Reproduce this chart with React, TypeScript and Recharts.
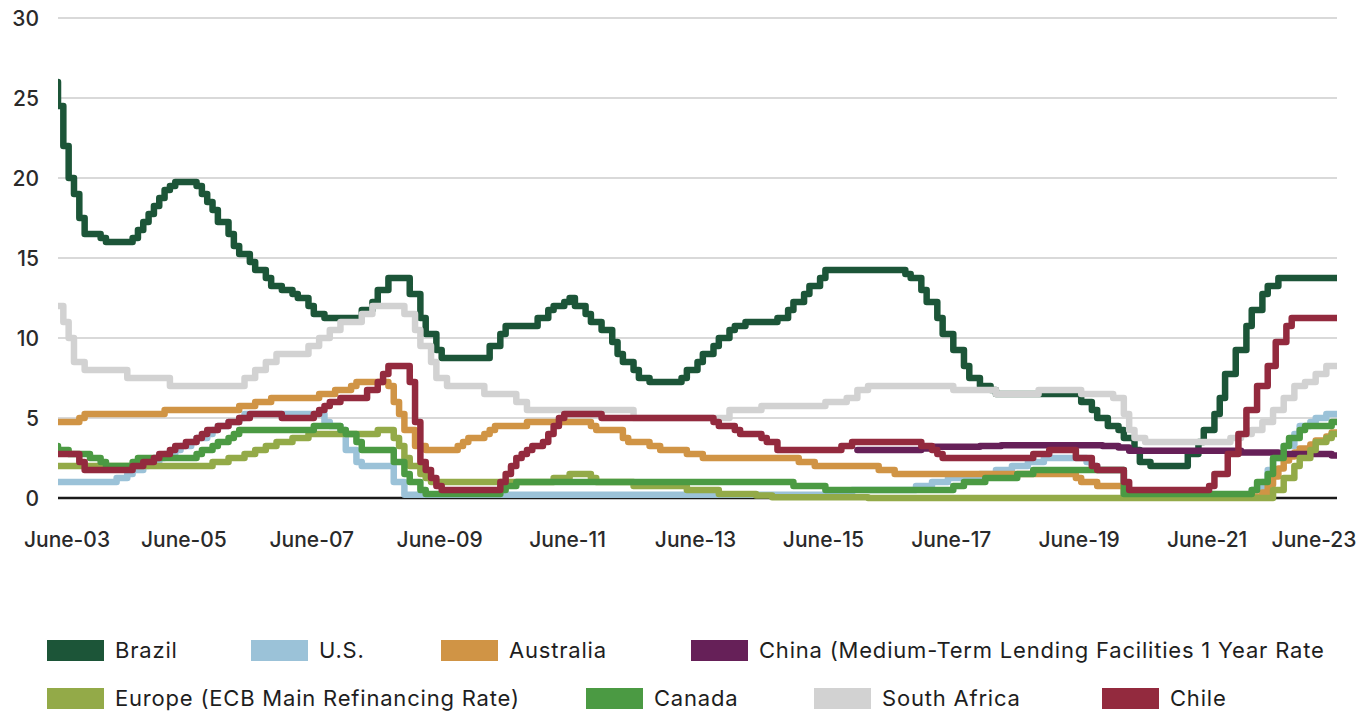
import React from 'react';
import { LineChart, Line, XAxis, YAxis, CartesianGrid } from 'recharts';

// x = months since June 2003 (position where each rate level begins), y = policy rate (%)
const X_TICKS = [0, 24, 48, 72, 96, 120, 144, 168, 192, 216, 240];
const X_TICK_LABELS = ['June-03', 'June-05', 'June-07', 'June-09', 'June-11', 'June-13', 'June-15', 'June-17', 'June-19', 'June-21', 'June-23'];
const Y_TICKS = [0, 5, 10, 15, 20, 25, 30];

const brazil: [number, number][] = [
  [0, 26], [0, 24.5], [1, 22], [2, 20], [3, 19], [4, 17.5], [5, 16.5], [8, 16.25], [9, 16], [14, 16.25], [15, 16.75],
  [16, 17.25], [17, 17.75], [18, 18.25], [19, 18.75], [20, 19.25], [21, 19.5], [22, 19.75], [26, 19.5], [27, 19],
  [28, 18.5], [29, 18], [30, 17.25], [32, 16.5], [33, 15.75], [34, 15.25], [36, 14.75], [37, 14.25], [39, 13.75],
  [40, 13.25], [42, 13], [44, 12.75], [45, 12.5], [47, 12], [48, 11.5], [50, 11.25], [57, 11.75], [59, 12.25], [60, 13],
  [62, 13.75], [66, 12.75], [68, 11.25], [69, 10.25], [71, 9.25], [72, 8.75], [81, 9.5], [83, 10.25], [84, 10.75],
  [90, 11.25], [92, 11.75], [93, 12], [95, 12.25], [96, 12.5], [97, 12], [99, 11.5], [100, 11], [102, 10.5], [104, 9.75],
  [105, 9], [106, 8.5], [108, 8], [109, 7.5], [111, 7.25], [117, 7.5], [118, 8], [120, 8.5], [121, 9], [123, 9.5],
  [124, 10], [126, 10.5], [127, 10.75], [129, 11], [135, 11.25], [137, 11.75], [138, 12.25], [140, 12.75], [141, 13.25],
  [143, 13.75], [144, 14.25], [159, 14], [160, 13.75], [162, 13], [163, 12.25], [165, 11.25], [166, 10.25], [168, 9.25],
  [170, 8.25], [171, 7.5], [173, 7], [175, 6.75], [176, 6.5], [192, 6], [194, 5.5], [195, 5], [197, 4.5], [199, 4.25],
  [200, 3.75], [202, 3], [203, 2.25], [205, 2], [212, 2.75], [214, 3.5], [215, 4.25], [217, 5.25], [218, 6.25],
  [219, 7.75], [221, 9.25], [223, 10.75], [224, 11.75], [226, 12.75], [227, 13.25], [229, 13.75], [240, 13.75],
];

const us: [number, number][] = [
  [0, 1], [11, 1.25], [13, 1.5], [14, 1.75], [16, 2], [17, 2.25], [19, 2.5], [20, 2.75], [22, 3], [23, 3.25], [25, 3.5],
  [26, 3.75], [28, 4], [29, 4.25], [30, 4.5], [32, 4.75], [34, 5], [35, 5.25], [50, 4.75], [51, 4.5], [53, 4.25],
  [54, 3], [56, 2.25], [57, 2], [63, 1], [65, 0.2], [149, 0.5], [161, 0.75], [164, 1], [167, 1.25], [173, 1.5],
  [176, 1.75], [179, 2], [182, 2.25], [185, 2.5], [193, 2.25], [194, 2], [195, 1.75], [200, 0.2], [224, 0.5], [226, 1],
  [227, 1.75], [228, 2.5], [230, 3.25], [232, 4], [233, 4.5], [235, 4.75], [236, 5], [238, 5.25], [240, 5.25],
];

const australia: [number, number][] = [
  [0, 4.75], [4, 5], [5, 5.25], [20, 5.5], [34, 5.75], [37, 6], [40, 6.25], [49, 6.5], [52, 6.75], [55, 7], [56, 7.25],
  [62, 7], [63, 6], [64, 5.25], [65, 4.25], [67, 3.25], [69, 3], [75, 3.25], [76, 3.5], [77, 3.75], [80, 4], [81, 4.25],
  [82, 4.5], [88, 4.75], [100, 4.5], [101, 4.25], [106, 3.75], [107, 3.5], [111, 3.25], [113, 3], [118, 2.75],
  [121, 2.5], [139, 2.25], [142, 2], [154, 1.75], [157, 1.5], [191, 1.25], [192, 1], [195, 0.75], [200, 0.25],
  [208, 0.1], [226, 0.35], [227, 0.85], [228, 1.35], [229, 1.85], [230, 2.35], [231, 2.6], [232, 2.85], [233, 3.1],
  [235, 3.35], [236, 3.6], [238, 3.85], [239, 4.1], [240, 4.1],
];

const china: [number, number][] = [
  [150, 3], [162, 3.1], [164, 3.2], [173, 3.25], [177, 3.3], [196, 3.25], [199, 3.15], [201, 2.95], [222, 2.85],
  [229, 2.75], [239, 2.65], [240, 2.65],
];

const europe: [number, number][] = [
  [0, 2], [29, 2.25], [32, 2.5], [35, 2.75], [37, 3], [39, 3.25], [41, 3.5], [44, 3.75], [47, 4], [60, 4.25], [63, 3.75],
  [64, 3.25], [65, 2.5], [66, 2], [68, 1.5], [69, 1.25], [70, 1], [93, 1.25], [96, 1.5], [100, 1.25], [101, 1],
  [108, 0.75], [118, 0.5], [124, 0.25], [131, 0.15], [134, 0.05], [152, 0], [228, 0.5], [230, 1.25], [232, 2],
  [233, 2.5], [235, 3], [236, 3.5], [238, 3.75], [239, 4], [240, 4],
];

const canada: [number, number][] = [
  [0, 3.25], [0, 3], [2, 2.75], [6, 2.5], [8, 2.25], [9, 2], [14, 2.25], [15, 2.5], [26, 2.75], [27, 3], [29, 3.25],
  [30, 3.5], [32, 3.75], [33, 4], [34, 4.25], [48, 4.5], [53, 4.25], [54, 4], [56, 3.5], [57, 3], [63, 2.25], [65, 1.5],
  [66, 1], [68, 0.5], [69, 0.25], [83, 0.5], [84, 0.75], [86, 1], [138, 0.75], [144, 0.5], [168, 0.75], [170, 1],
  [174, 1.25], [180, 1.5], [183, 1.75], [200, 0.25], [224, 0.5], [225, 1], [227, 1.5], [228, 2.5], [230, 3.25],
  [231, 3.75], [233, 4.25], [234, 4.5], [239, 4.75], [240, 4.75],
];

const southAfrica: [number, number][] = [
  [0, 12], [1, 11], [2, 10], [3, 8.5], [5, 8], [13, 7.5], [21, 7], [35, 7.5], [37, 8], [39, 8.5], [41, 9], [47, 9.5],
  [49, 10], [51, 10.5], [53, 11], [57, 11.5], [59, 12], [65, 11.5], [67, 10.5], [68, 9.5], [70, 8.5], [71, 7.5],
  [73, 7], [80, 6.5], [86, 6], [88, 5.5], [108, 5], [126, 5.5], [132, 5.75], [144, 6], [148, 6.25], [150, 6.75],
  [152, 7], [168, 6.75], [176, 6.5], [184, 6.75], [192, 6.5], [198, 6.25], [200, 5.25], [201, 4.25], [202, 3.75],
  [204, 3.5], [220, 3.75], [222, 4], [224, 4.25], [226, 4.75], [228, 5.5], [230, 6.25], [232, 7], [234, 7.25],
  [236, 7.75], [238, 8.25], [240, 8.25],
];

const chile: [number, number][] = [
  [0, 2.75], [4, 2.25], [5, 1.75], [14, 2], [16, 2.25], [18, 2.5], [19, 2.75], [21, 3], [22, 3.25], [24, 3.5],
  [26, 3.75], [27, 4], [28, 4.25], [30, 4.5], [32, 4.75], [34, 5], [36, 5.25], [42, 5], [48, 5.25], [49, 5.5],
  [50, 5.75], [51, 6], [53, 6.25], [58, 6.75], [60, 7.25], [61, 7.75], [62, 8.25], [66, 7.25], [67, 4.75], [68, 2.25],
  [69, 1.75], [70, 1.25], [71, 0.75], [72, 0.5], [83, 1], [84, 1.5], [85, 2], [86, 2.5], [87, 2.75], [88, 3],
  [89, 3.25], [91, 3.5], [92, 4], [93, 4.5], [94, 5], [95, 5.25], [102, 5], [123, 4.75], [124, 4.5], [127, 4.25],
  [128, 4], [132, 3.75], [133, 3.5], [135, 3], [147, 3.25], [149, 3.5], [162, 3.25], [164, 3], [165, 2.75], [166, 2.5],
  [183, 2.75], [186, 3], [191, 2.5], [194, 2], [195, 1.75], [200, 1], [201, 0.5], [216, 0.75], [217, 1.5],
  [219.5, 2.75], [221.5, 4], [223, 5.5], [225, 7], [227, 8.25], [228.5, 9.75], [230.5, 10.75], [231.5, 11.25],
  [240, 11.25],
];

const AXIS_ZERO: [number, number][] = [[0, 0], [240, 0]];

const SERIES = [
  { name: 'Brazil', data: brazil, color: '#1c5538' },
  { name: 'U.S.', data: us, color: '#9bc2d8' },
  { name: 'Australia', data: australia, color: '#d09445' },
  { name: 'China (Medium-Term Lending Facilities 1 Year Rate', data: china, color: '#662058' },
  { name: 'Europe (ECB Main Refinancing Rate)', data: europe, color: '#93aa48' },
  { name: 'Canada', data: canada, color: '#4b9a43' },
  { name: 'South Africa', data: southAfrica, color: '#d2d2d2' },
  { name: 'Chile', data: chile, color: '#932a3e' },
];

const toPoints = (arr: [number, number][]) => arr.map(([m, v]) => ({ m, v }));

const FONT = 'Inter, "Noto Sans", sans-serif';

const XTick = (props: any) => {
  const { x, y, payload } = props;
  const i = X_TICKS.indexOf(payload.value);
  const last = X_TICKS.length - 1;
  const dx = i === 0 ? 9 : i === last ? -23 : -2;
  return (
    <text x={x + dx} y={y + 49} textAnchor="middle" fontFamily={FONT} fontSize={21} fontWeight={500} fill="#2a2a2a">
      {X_TICK_LABELS[i]}
    </text>
  );
};

const YTick = (props: any) => {
  const { y, payload } = props;
  return (
    <text x={39} y={y + 7.5} textAnchor="end" fontFamily={FONT} fontSize={21} fontWeight={500} fill="#2a2a2a">
      {payload.value}
    </text>
  );
};

const LEGEND_POS = [
  { left: 47, top: 639 },
  { left: 251, top: 639 },
  { left: 441, top: 639 },
  { left: 691, top: 639 },
  { left: 47, top: 687 },
  { left: 586, top: 687 },
  { left: 814, top: 687 },
  { left: 1102, top: 687 },
];

export default function App() {
  return (
    <div style={{ position: 'absolute', left: 0, top: 0, width: 1372, height: 712, background: '#fff', overflow: 'hidden' }}>
      <LineChart width={1372} height={560} margin={{ top: 18, right: 35, bottom: 0, left: 1 }}>
        <CartesianGrid vertical={false} stroke="#d9d9d9" strokeWidth={2} />
        <XAxis
          type="number"
          dataKey="m"
          domain={[0, 240]}
          ticks={X_TICKS}
          tick={<XTick />}
          tickLine={false}
          axisLine={false}
          tickSize={0}
          tickMargin={0}
          height={62}
          interval={0}
          allowDataOverflow
        />
        <YAxis
          type="number"
          domain={[0, 30]}
          ticks={Y_TICKS}
          tick={<YTick />}
          tickLine={false}
          axisLine={false}
          tickSize={0}
          tickMargin={0}
          width={57}
          interval={0}
        />
        <Line
          data={toPoints(AXIS_ZERO)}
          dataKey="v"
          type="linear"
          stroke="#1a1a1a"
          strokeWidth={2.5}
          dot={false}
          activeDot={false}
          isAnimationActive={false}
          legendType="none"
        />
        {SERIES.map((s) => (
          <Line
            key={s.name}
            data={toPoints(s.data)}
            dataKey="v"
            name={s.name}
            type="stepAfter"
            stroke={s.color}
            strokeWidth={6.5}
            strokeLinecap="round"
            strokeLinejoin="round"
            dot={false}
            activeDot={false}
            isAnimationActive={false}
          />
        ))}
      </LineChart>
      {SERIES.map((s, i) => (
        <div
          key={s.name}
          style={{
            position: 'absolute',
            left: LEGEND_POS[i].left,
            top: LEGEND_POS[i].top,
            display: 'flex',
            alignItems: 'center',
            height: 22,
            fontFamily: FONT,
            fontSize: 22,
            letterSpacing: 0.8,
            color: '#1e1e1e',
            whiteSpace: 'nowrap',
          }}
        >
          <span style={{ display: 'inline-block', width: 57, height: 21, background: s.color, marginRight: 11 }} />
          <span>{s.name}</span>
        </div>
      ))}
    </div>
  );
}
